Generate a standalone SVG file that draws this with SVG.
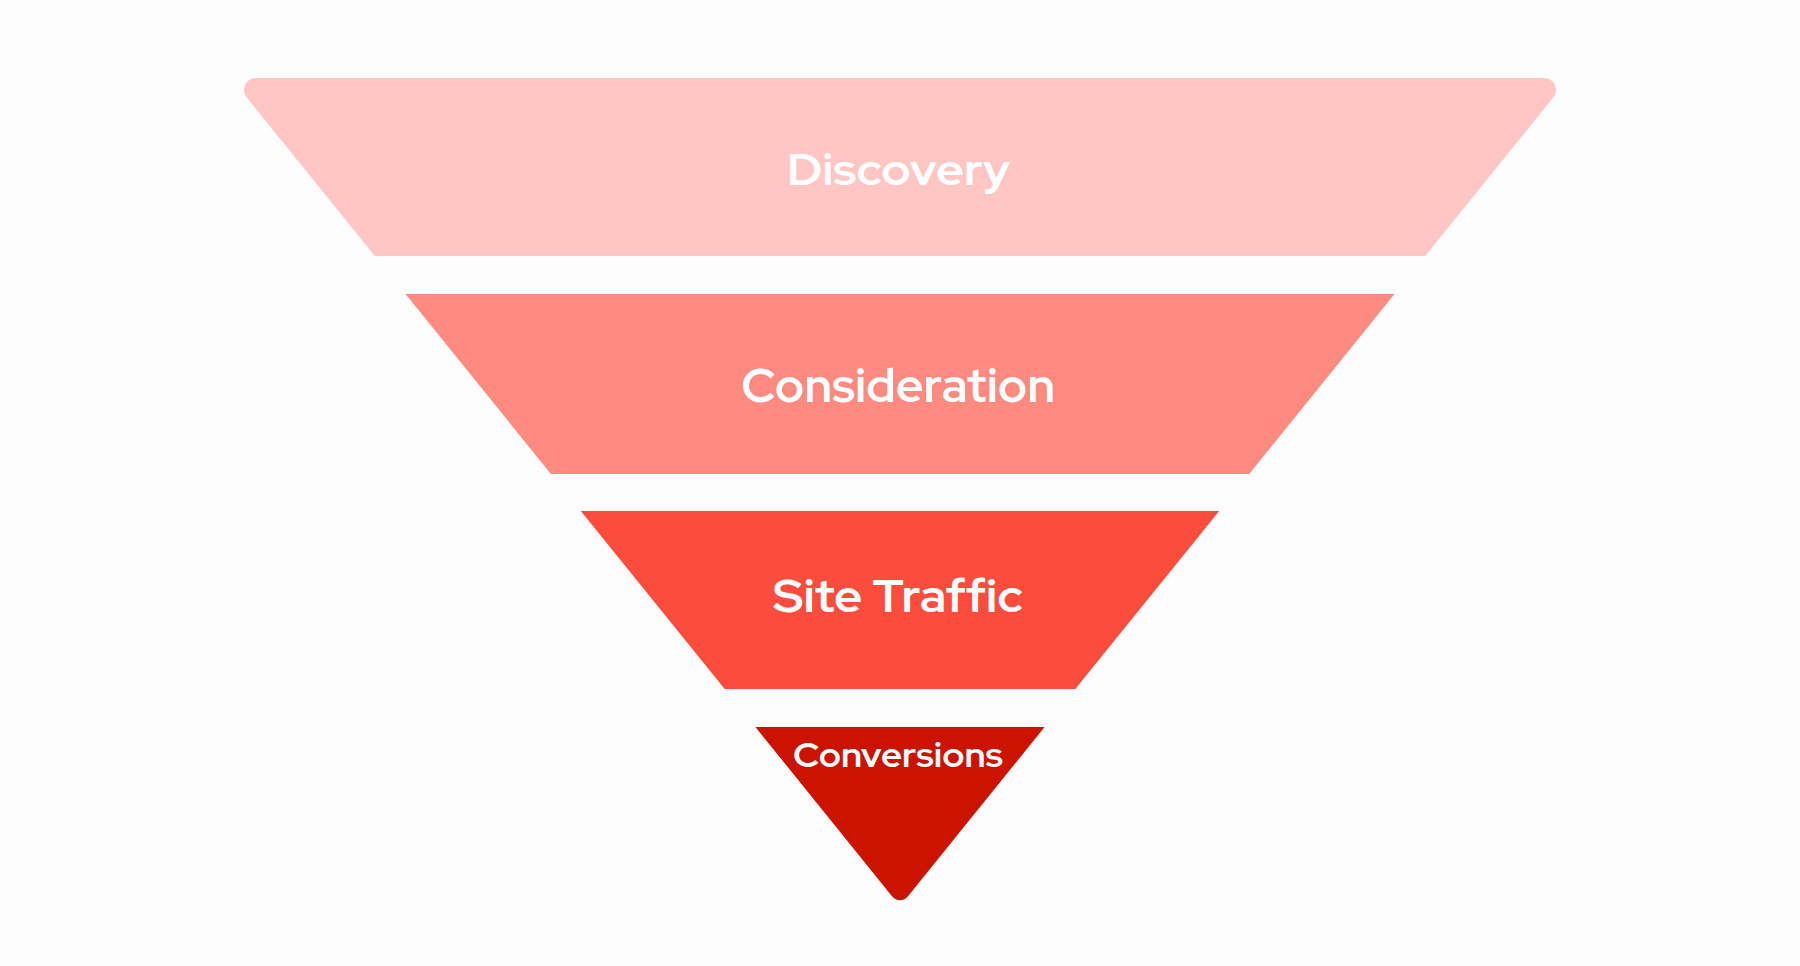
<svg xmlns="http://www.w3.org/2000/svg" width="1800" height="966" viewBox="0 0 1800 966">
  <style>
    .lbl { font-family: "Red Hat Display", Lato, "Open Sans", "Liberation Sans", sans-serif; font-weight: 700; fill: #FFFFFF; text-anchor: middle; }
  </style>
  <rect x="0" y="0" width="1800" height="966" fill="#FEFDFE"/>
  <g id="discovery">
    <path d="M 256.2 78 L 1543.8 78 A 12 12 0 0 1 1553.2 97.6 L 1425.2 256 L 374.8 256 L 246.8 97.6 A 12 12 0 0 1 256.2 78 Z" fill="#FFC6C3"/>
    <text class="lbl" x="898.5" y="185" font-size="43" textLength="223" lengthAdjust="spacingAndGlyphs">Discovery</text>
  </g>
  <g id="consideration">
    <path d="M 405.5 294 L 1394.5 294 L 1249.1 474 L 550.9 474 Z" fill="#FF8A80"/>
    <text class="lbl" x="898" y="402" font-size="48" textLength="314" lengthAdjust="spacingAndGlyphs">Consideration</text>
  </g>
  <g id="site-traffic">
    <path d="M 580.8 511 L 1219.2 511 L 1075.3 689 L 724.7 689 Z" fill="#FC4C3C"/>
    <text class="lbl" x="898" y="612" font-size="46" textLength="250" lengthAdjust="spacingAndGlyphs">Site Traffic</text>
  </g>
  <g id="conversions">
    <path d="M 755.4 727 L 1044.6 727 L 907.8 896.4 A 10 10 0 0 1 892.2 896.4 Z" fill="#CC1200"/>
    <text class="lbl" x="898" y="767" font-size="34" textLength="210" lengthAdjust="spacingAndGlyphs">Conversions</text>
  </g>
  <g id="connectors"></g>
</svg>
